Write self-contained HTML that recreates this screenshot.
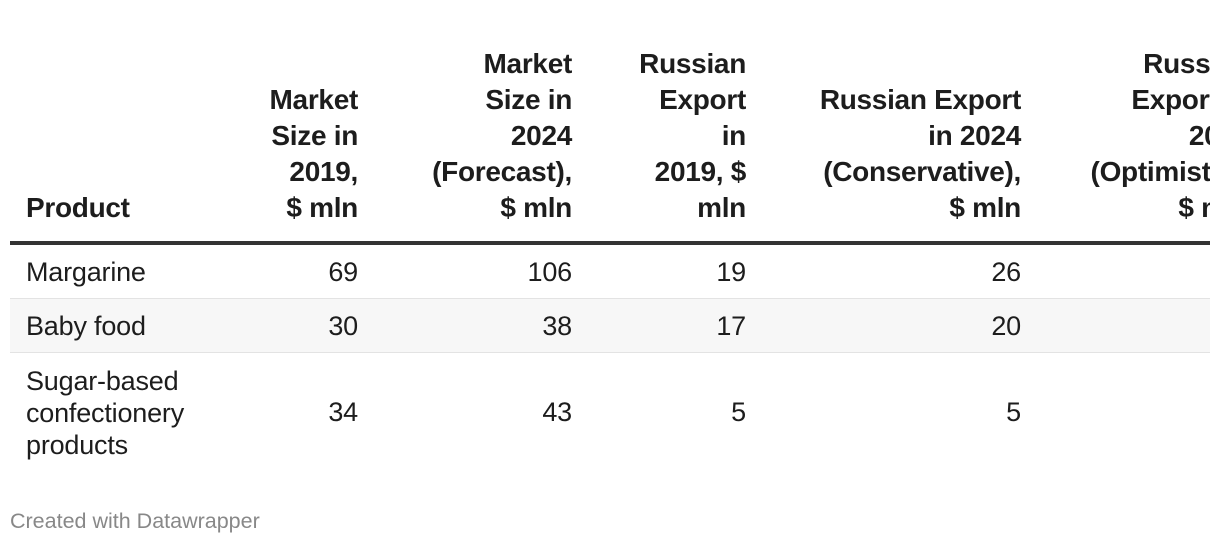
<!DOCTYPE html>
<html><head><meta charset="utf-8"><style>
body{margin:0;width:1220px;height:546px;background:#fff;font-family:"Liberation Sans",Arial,sans-serif;color:#1d1d1d;position:relative;overflow:hidden}
.wrap{position:absolute;left:10px;top:0;width:1200px;height:480px;overflow:hidden}
.h{position:absolute;bottom:254px;font-weight:bold;font-size:28px;line-height:36px;text-align:right;letter-spacing:-0.3px}
.c{position:absolute;font-size:27px;line-height:32px;letter-spacing:-0.2px}
.r{text-align:right}
.row{position:absolute;left:0;width:1200px}
</style></head><body>
<div class="wrap">
 <div class="h" style="left:16px;text-align:left">Product</div>
 <div class="h" style="right:852px">Market<br>Size in<br>2019,<br>$ mln</div>
 <div class="h" style="right:638px">Market<br>Size in<br>2024<br>(Forecast),<br>$ mln</div>
 <div class="h" style="right:464px">Russian<br>Export<br>in<br>2019, $<br>mln</div>
 <div class="h" style="right:189px">Russian Export<br>in 2024<br>(Conservative),<br>$ mln</div>
 <div class="h" style="right:-40px">Russian<br>Export in<br>2024<br>(Optimistic),<br>$ mln</div>
 <div class="row" style="top:241px;height:4px;background:#333"></div>
 <div class="row" style="top:298px;height:1px;background:#e3e3e3"></div>
 <div class="row" style="top:299px;height:53px;background:#f7f7f7"></div>
 <div class="row" style="top:352px;height:1px;background:#e3e3e3"></div>

 <div class="c" style="left:16px;top:256px">Margarine</div>
 <div class="c r" style="right:852px;top:256px">69</div>
 <div class="c r" style="right:638px;top:256px">106</div>
 <div class="c r" style="right:464px;top:256px">19</div>
 <div class="c r" style="right:189px;top:256px">26</div>

 <div class="c" style="left:16px;top:310px">Baby food</div>
 <div class="c r" style="right:852px;top:310px">30</div>
 <div class="c r" style="right:638px;top:310px">38</div>
 <div class="c r" style="right:464px;top:310px">17</div>
 <div class="c r" style="right:189px;top:310px">20</div>

 <div class="c" style="left:16px;top:365px">Sugar-based<br>confectionery<br>products</div>
 <div class="c r" style="right:852px;top:396px">34</div>
 <div class="c r" style="right:638px;top:396px">43</div>
 <div class="c r" style="right:464px;top:396px">5</div>
 <div class="c r" style="right:189px;top:396px">5</div>
</div>
<div style="position:absolute;left:10px;top:509px;font-size:21.5px;color:#888">Created with Datawrapper</div>
</body></html>
